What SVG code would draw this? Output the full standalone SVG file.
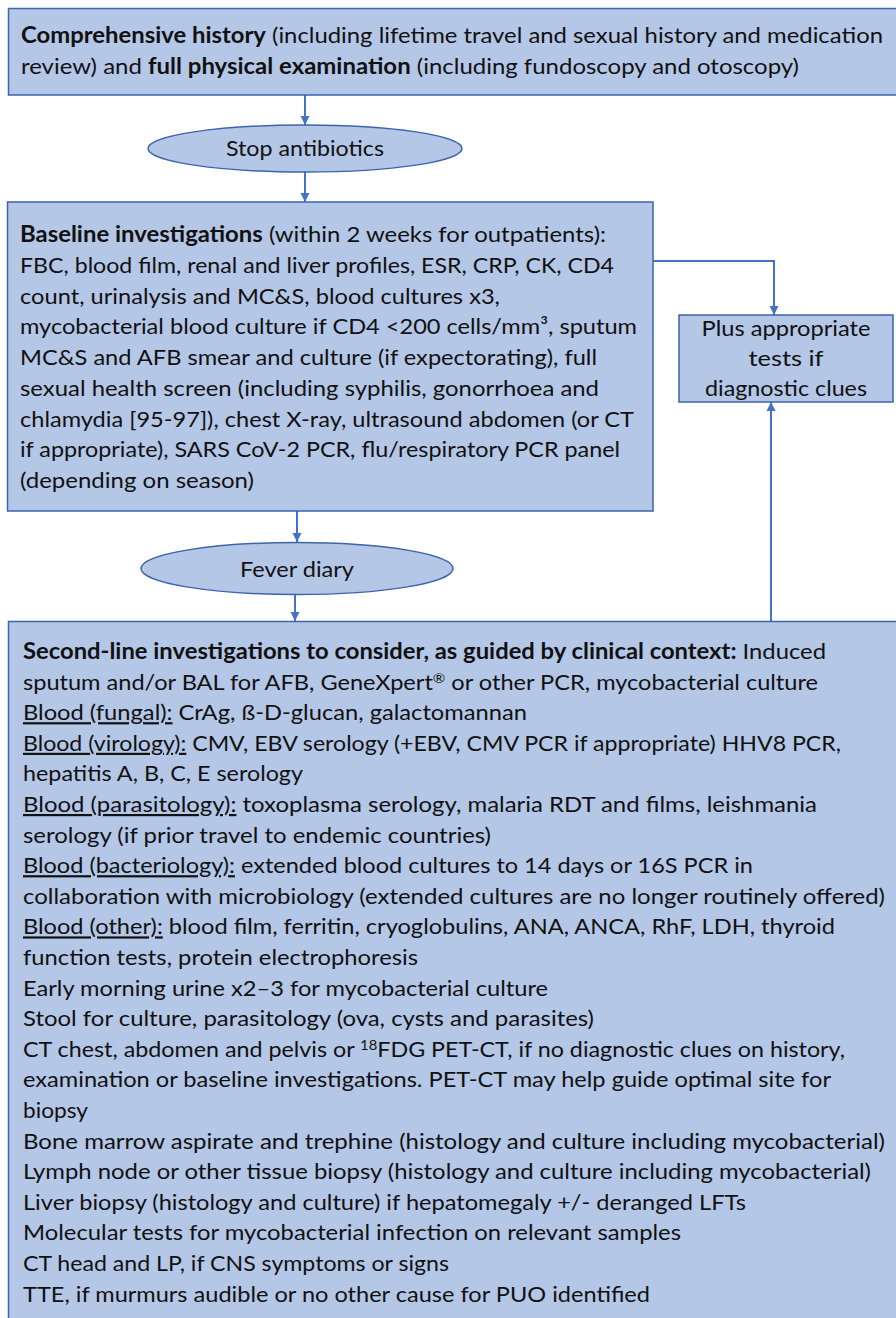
<svg xmlns="http://www.w3.org/2000/svg" width="896" height="1318" viewBox="0 0 896 1318">
<style>
  .box { fill: #B4C7E7; stroke: #3B64AD; stroke-width: 1.5; }
  .conn { fill: none; stroke: #4472C4; stroke-width: 2; }
  .t { font-family: Lato, "Liberation Sans", sans-serif; font-size: 22px; fill: #111; }
  .b { font-weight: bold; }
  .u { text-decoration: underline; }
  .c { text-anchor: middle; }
</style>
<defs>
  <marker id="ah" markerUnits="userSpaceOnUse" markerWidth="10" markerHeight="10" refX="9" refY="5" orient="auto">
    <path d="M0,0.5 L9,5 L0,9.5 z" fill="#4472C4"/>
  </marker>
</defs>

<g id="connectors">
  <line class="conn" x1="305" y1="95" x2="305" y2="125" marker-end="url(#ah)"/>
  <line class="conn" x1="305" y1="172" x2="305" y2="202" marker-end="url(#ah)"/>
  <line class="conn" x1="297" y1="511" x2="297" y2="542" marker-end="url(#ah)"/>
  <line class="conn" x1="295" y1="595" x2="295" y2="621" marker-end="url(#ah)"/>
  <polyline class="conn" points="653,261 774,261 774,315" marker-end="url(#ah)"/>
  <line class="conn" x1="771" y1="621" x2="771" y2="402" marker-end="url(#ah)"/>
</g>

<g id="history">
  <rect class="box" x="8.5" y="8.5" width="900" height="86.5"/>
  <text class="t" x="21" y="43" textLength="862" lengthAdjust="spacingAndGlyphs"><tspan class="b">Comprehensive history</tspan> (including lifetime travel and sexual history and medication</text>
  <text class="t" x="21" y="74" textLength="778" lengthAdjust="spacingAndGlyphs">review) and <tspan class="b">full physical examination</tspan> (including fundoscopy and otoscopy)</text>
</g>

<g id="stop-antibiotics">
  <ellipse class="box" cx="305" cy="148.5" rx="157" ry="23.5"/>
  <text class="t c" x="305" y="156" textLength="158" lengthAdjust="spacingAndGlyphs">Stop antibiotics</text>
</g>

<g id="baseline">
  <rect class="box" x="7.5" y="202" width="645.5" height="309"/>
  <text class="t" x="20" y="242" textLength="586" lengthAdjust="spacingAndGlyphs"><tspan class="b">Baseline investigations</tspan> (within 2 weeks for outpatients):</text>
  <text class="t" x="20" y="272.75" textLength="594" lengthAdjust="spacingAndGlyphs">FBC, blood film, renal and liver profiles, ESR, CRP, CK, CD4</text>
  <text class="t" x="20" y="303.5" textLength="480" lengthAdjust="spacingAndGlyphs">count, urinalysis and MC&amp;S, blood cultures x3,</text>
  <text class="t" x="20" y="334.25" textLength="617" lengthAdjust="spacingAndGlyphs">mycobacterial blood culture if CD4 &lt;200 cells/mm³, sputum</text>
  <text class="t" x="20" y="365" textLength="577" lengthAdjust="spacingAndGlyphs">MC&amp;S and AFB smear and culture (if expectorating), full</text>
  <text class="t" x="20" y="395.75" textLength="579" lengthAdjust="spacingAndGlyphs">sexual health screen (including syphilis, gonorrhoea and</text>
  <text class="t" x="20" y="426.5" textLength="614" lengthAdjust="spacingAndGlyphs">chlamydia [95-97]), chest X-ray, ultrasound abdomen (or CT</text>
  <text class="t" x="20" y="457.25" textLength="600" lengthAdjust="spacingAndGlyphs">if appropriate), SARS CoV-2 PCR, flu/respiratory PCR panel</text>
  <text class="t" x="20" y="488" textLength="234" lengthAdjust="spacingAndGlyphs">(depending on season)</text>
</g>

<g id="plus-tests">
  <rect class="box" x="679" y="315" width="214" height="87"/>
  <text class="t c" x="786" y="336" textLength="169" lengthAdjust="spacingAndGlyphs">Plus appropriate</text>
  <text class="t c" x="786" y="366" textLength="75" lengthAdjust="spacingAndGlyphs">tests  if</text>
  <text class="t c" x="786" y="396" textLength="162" lengthAdjust="spacingAndGlyphs">diagnostic clues</text>
</g>

<g id="fever-diary">
  <ellipse class="box" cx="297" cy="568.5" rx="156" ry="26"/>
  <text class="t c" x="297" y="577" textLength="114" lengthAdjust="spacingAndGlyphs">Fever diary</text>
</g>

<g id="second-line">
  <rect class="box" x="8.5" y="621.5" width="900" height="710"/>
  <text class="t" x="23" y="659" textLength="803" lengthAdjust="spacingAndGlyphs"><tspan class="b">Second-line investigations to consider, as guided by clinical context:</tspan> Induced</text>
  <text class="t" x="23" y="689.6" textLength="795" lengthAdjust="spacingAndGlyphs">sputum and/or BAL for AFB, GeneXpert<tspan font-size="14" dy="-7">®</tspan><tspan dy="7"> or other PCR, mycobacterial culture</tspan></text>
  <text class="t" x="23" y="720.2" textLength="504" lengthAdjust="spacingAndGlyphs"><tspan class="u">Blood (fungal):</tspan> CrAg, ß-D-glucan, galactomannan</text>
  <text class="t" x="23" y="750.8" textLength="818" lengthAdjust="spacingAndGlyphs"><tspan class="u">Blood (virology):</tspan> CMV, EBV serology (+EBV, CMV PCR if appropriate) HHV8 PCR,</text>
  <text class="t" x="23" y="781.4" textLength="280" lengthAdjust="spacingAndGlyphs">hepatitis A, B, C, E serology</text>
  <text class="t" x="23" y="812" textLength="794" lengthAdjust="spacingAndGlyphs"><tspan class="u">Blood (parasitology):</tspan> toxoplasma serology, malaria RDT and films, leishmania</text>
  <text class="t" x="23" y="842.6" textLength="468" lengthAdjust="spacingAndGlyphs">serology (if prior travel to endemic countries)</text>
  <text class="t" x="23" y="873.2" textLength="730" lengthAdjust="spacingAndGlyphs"><tspan class="u">Blood (bacteriology):</tspan> extended blood cultures to 14 days or 16S PCR in</text>
  <text class="t" x="23" y="903.8" textLength="862" lengthAdjust="spacingAndGlyphs">collaboration with microbiology (extended cultures are no longer routinely offered)</text>
  <text class="t" x="23" y="934.4" textLength="812" lengthAdjust="spacingAndGlyphs"><tspan class="u">Blood (other):</tspan> blood film, ferritin, cryoglobulins, ANA, ANCA, RhF, LDH, thyroid</text>
  <text class="t" x="23" y="965" textLength="395" lengthAdjust="spacingAndGlyphs">function tests, protein electrophoresis</text>
  <text class="t" x="23" y="995.6" textLength="525" lengthAdjust="spacingAndGlyphs">Early morning urine x2–3 for mycobacterial culture</text>
  <text class="t" x="23" y="1026.2" textLength="571" lengthAdjust="spacingAndGlyphs">Stool for culture, parasitology (ova, cysts and parasites)</text>
  <text class="t" x="23" y="1056.8" textLength="822" lengthAdjust="spacingAndGlyphs">CT chest, abdomen and pelvis or <tspan font-size="14" dy="-7">18</tspan><tspan dy="7">FDG PET-CT, if no diagnostic clues on history,</tspan></text>
  <text class="t" x="23" y="1087.4" textLength="808" lengthAdjust="spacingAndGlyphs">examination or baseline investigations. PET-CT may help guide optimal site for</text>
  <text class="t" x="23" y="1118" textLength="65" lengthAdjust="spacingAndGlyphs">biopsy</text>
  <text class="t" x="23" y="1148.6" textLength="862" lengthAdjust="spacingAndGlyphs">Bone marrow aspirate and trephine (histology and culture including mycobacterial)</text>
  <text class="t" x="23" y="1179.2" textLength="848" lengthAdjust="spacingAndGlyphs">Lymph node or other tissue biopsy (histology and culture including mycobacterial)</text>
  <text class="t" x="23" y="1209.8" textLength="723" lengthAdjust="spacingAndGlyphs">Liver biopsy (histology and culture) if hepatomegaly +/- deranged LFTs</text>
  <text class="t" x="23" y="1240.4" textLength="658" lengthAdjust="spacingAndGlyphs">Molecular tests for mycobacterial infection on relevant samples</text>
  <text class="t" x="23" y="1271" textLength="426" lengthAdjust="spacingAndGlyphs">CT head and LP, if CNS symptoms or signs</text>
  <text class="t" x="23" y="1301.6" textLength="627" lengthAdjust="spacingAndGlyphs">TTE, if murmurs audible or no other cause for PUO identified</text>
</g>
</svg>
